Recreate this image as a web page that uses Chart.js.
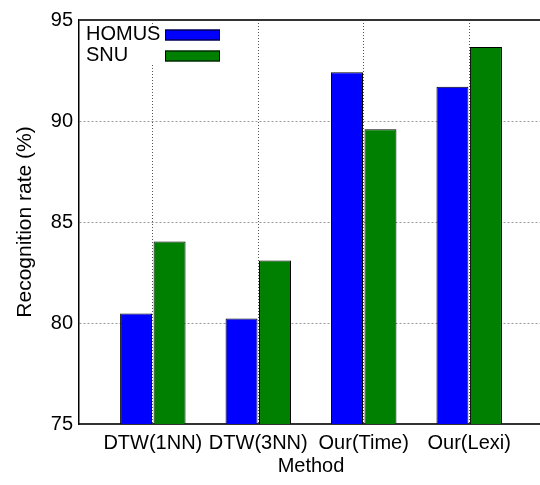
<!DOCTYPE html>
<html>
<head>
<meta charset="utf-8">
<script src="https://cdn.jsdelivr.net/npm/chart.js@4"></script>
<style>
  html, body { margin: 0; padding: 0; background: #fff; overflow: hidden; }
  #wrap { width: 543px; height: 485px; }
</style>
</head>
<body>
<div id="wrap"><canvas id="myChart"></canvas></div>
<script>
  // *****************Data*****************
  const METHODS = ["DTW(1NN)", "DTW(3NN)", "Our(Time)", "Our(Lexi)"];
  const HOMUS = [80.47, 80.22, 92.41, 91.7];
  const SNU = [84.03, 83.1, 89.59, 93.66];
  const Y_TICKS = [75, 80, 85, 90, 95];

  const FONT = "'Liberation Sans', Arial, sans-serif";

  // gnuplot-ish key: text left, sample box right
  const keyPlugin = {
    id: "key",
    afterDatasetsDraw(chart) {
      const { ctx, chartArea } = chart;
      ctx.save();
      // top border
      ctx.strokeStyle = "#333";
      ctx.lineWidth = 2;
      ctx.beginPath();
      ctx.moveTo(chartArea.left, chartArea.top);
      ctx.lineTo(chartArea.right, chartArea.top);
      ctx.stroke();

      ctx.fillStyle = "#fff";
      ctx.fillRect(chartArea.left + 1, chartArea.top + 7, 146, 38);
      ctx.font = "20px " + FONT;
      ctx.textBaseline = "middle";
      ctx.textAlign = "left";
      chart.data.datasets.forEach((ds, i) => {
        const y = chartArea.top + 14.5 + i * 21;
        ctx.fillStyle = "#000";
        ctx.fillText(ds.label, chartArea.left + 7, y);
        ctx.fillStyle = ds.backgroundColor;
        ctx.fillRect(chartArea.left + 86, y - 5, 55, 11);
        ctx.strokeStyle = "#000";
        ctx.lineWidth = 1;
        ctx.strokeRect(chartArea.left + 86.5, y - 4.5, 54, 10);
      });
      ctx.restore();
    },
  };

  const data = {
    datasets: [
      {
        label: "HOMUS",
        data: HOMUS.map((v, i) => ({ x: i, y: v })),
        backgroundColor: "#0000ff",
        borderColor: "#000",
        borderWidth: 1,
        categoryPercentage: 0.635,
        barPercentage: 0.955,
      },
      {
        label: "SNU",
        data: SNU.map((v, i) => ({ x: i, y: v })),
        backgroundColor: "#008000",
        borderColor: "#000",
        borderWidth: 1,
        categoryPercentage: 0.635,
        barPercentage: 0.955,
      },
    ],
  };

  const config = {
    type: "bar",
    data: data,
    plugins: [keyPlugin],
    options: {
      responsive: true,
      maintainAspectRatio: false,
      animation: false,
      layout: { padding: { top: 20, left: 0, right: 0, bottom: 0 } },
      plugins: {
        legend: { display: false },
        tooltip: { enabled: false },
      },
      scales: {
        x: {
          type: "linear",
          min: -0.7,
          max: 3.7,
          offset: false,
          afterBuildTicks: (scale) => {
            scale.ticks = METHODS.map((_, i) => ({ value: i }));
          },
          afterFit: (scale) => {
            scale.height = 61;
          },
          grid: {
            offset: false,
            color: "#555",
            drawTicks: false,
          },
          border: { display: true, color: "#333", width: 2, dash: [1, 2] },
          ticks: {
            autoSkip: false,
            maxRotation: 0,
            padding: 7,
            color: "#000",
            font: { family: FONT, size: 20 },
            callback: (v) => METHODS[v] || "",
          },
          title: {
            display: true,
            text: "Method",
            color: "#000",
            font: { family: FONT, size: 20 },
            padding: { top: 0, bottom: 7 },
          },
        },
        y: {
          min: 75,
          max: 95,
          afterBuildTicks: (scale) => {
            scale.ticks = Y_TICKS.map((v) => ({ value: v }));
          },
          afterFit: (scale) => {
            scale.width = 79;
          },
          grid: {
            color: "#999",
            drawTicks: false,
          },
          border: { display: true, color: "#000", width: 1.5, dash: [2, 2] },
          ticks: {
            padding: 6,
            color: "#000",
            font: { family: FONT, size: 20 },
          },
          title: {
            display: true,
            text: "Recognition rate (%)",
            color: "#000",
            font: { family: FONT, size: 21 },
            padding: { top: 13, bottom: 0 },
          },
        },
      },
    },
  };

  new Chart(document.getElementById("myChart"), config);
</script>
</body>
</html>
